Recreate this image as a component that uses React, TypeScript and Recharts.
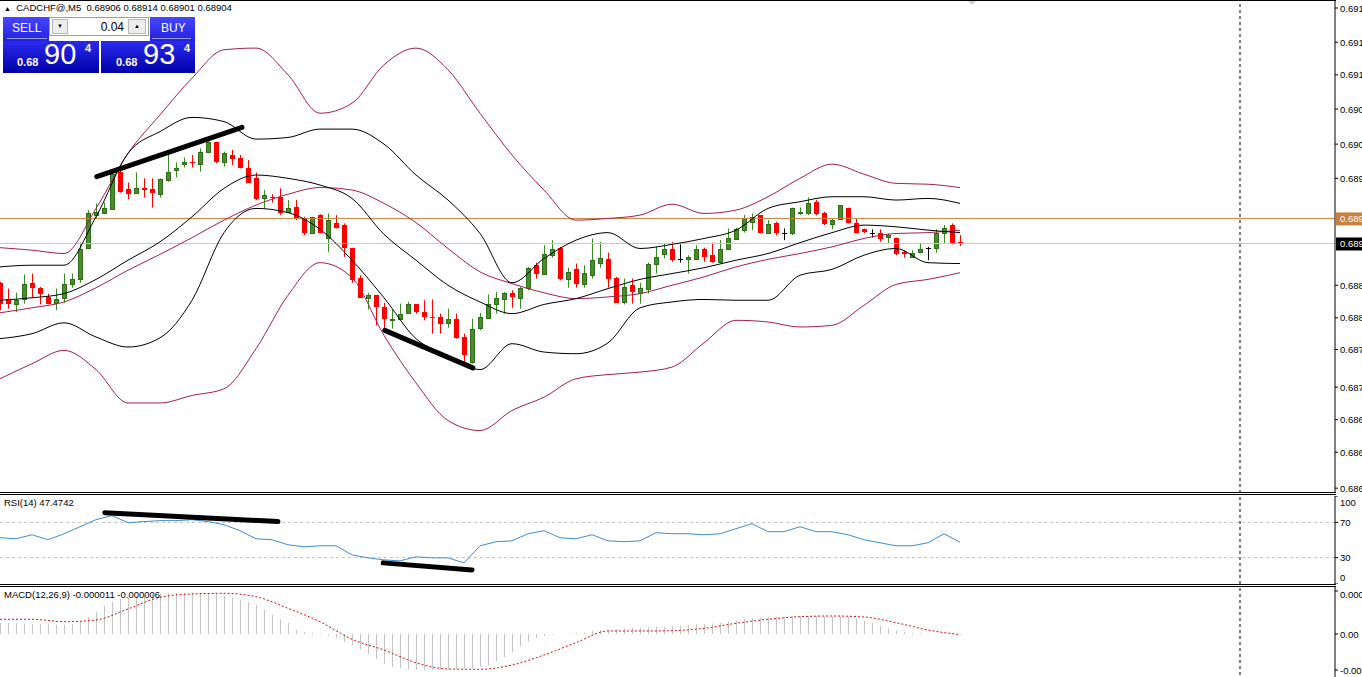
import React from 'react'
import { ComposedChart, Bar, Line, XAxis, YAxis, ReferenceLine } from 'recharts'

const FONT = '"Liberation Sans", Arial, sans-serif'

// M5 candles, oldest first
const OPEN = [
  0.68857, 0.68838, 0.68831, 0.68837, 0.68857, 0.68851, 0.68840, 0.68833, 0.68839, 0.68856,
  0.68861, 0.68899, 0.68938, 0.68941, 0.68945, 0.68990, 0.68969, 0.68965, 0.68971, 0.68969,
  0.68963, 0.68980, 0.68992, 0.68999, 0.69002, 0.68999, 0.69013, 0.69025, 0.69001, 0.69010,
  0.69006, 0.68994, 0.68982, 0.68958, 0.68960, 0.68960, 0.68942, 0.68948, 0.68935, 0.68917,
  0.68938, 0.68910, 0.68929, 0.68926, 0.68899, 0.68863, 0.68839, 0.68842, 0.68828, 0.68813,
  0.68814, 0.68821, 0.68831, 0.68822, 0.68816, 0.68816, 0.68809, 0.68814, 0.68792, 0.68762,
  0.68803, 0.68815, 0.68832, 0.68838, 0.68845, 0.68839, 0.68851, 0.68878, 0.68868, 0.68890,
  0.68899, 0.68862, 0.68874, 0.68856, 0.68866, 0.68881, 0.68886, 0.68863, 0.68834, 0.68854,
  0.68845, 0.68850, 0.68880, 0.68891, 0.68897, 0.68886, 0.68886, 0.68886, 0.68898, 0.68890,
  0.68882, 0.68898, 0.68909, 0.68920, 0.68930, 0.68938, 0.68916, 0.68929, 0.68917, 0.68916,
  0.68940, 0.68940, 0.68954, 0.68941, 0.68927, 0.68933, 0.68947, 0.68928, 0.68921, 0.68916,
  0.68916, 0.68912, 0.68910, 0.68894, 0.68888, 0.68894, 0.68899, 0.68899, 0.68917, 0.68926,
  0.68906,
]
const HIGH = [
  0.68858, 0.68850, 0.68845, 0.68867, 0.68868, 0.68852, 0.68844, 0.68850, 0.68868, 0.68868,
  0.68905, 0.68944, 0.68952, 0.68953, 0.68992, 0.68992, 0.68977, 0.68989, 0.68982, 0.68982,
  0.68982, 0.69010, 0.69001, 0.69007, 0.69010, 0.69018, 0.69030, 0.69026, 0.69014, 0.69016,
  0.69010, 0.69004, 0.68989, 0.68968, 0.68963, 0.68970, 0.68956, 0.68956, 0.68936, 0.68936,
  0.68939, 0.68940, 0.68938, 0.68928, 0.68899, 0.68866, 0.68845, 0.68842, 0.68833, 0.68825,
  0.68832, 0.68834, 0.68831, 0.68836, 0.68837, 0.68820, 0.68826, 0.68820, 0.68796, 0.68814,
  0.68821, 0.68843, 0.68846, 0.68846, 0.68848, 0.68852, 0.68876, 0.68881, 0.68902, 0.68908,
  0.68900, 0.68875, 0.68880, 0.68878, 0.68910, 0.68906, 0.68893, 0.68864, 0.68862, 0.68862,
  0.68857, 0.68881, 0.68900, 0.68904, 0.68906, 0.68903, 0.68890, 0.68902, 0.68899, 0.68905,
  0.68908, 0.68922, 0.68923, 0.68938, 0.68940, 0.68938, 0.68932, 0.68930, 0.68922, 0.68947,
  0.68947, 0.68959, 0.68956, 0.68942, 0.68934, 0.68950, 0.68947, 0.68934, 0.68922, 0.68921,
  0.68921, 0.68916, 0.68911, 0.68896, 0.68896, 0.68905, 0.68900, 0.68921, 0.68926, 0.68928,
  0.68914,
]
const LOW = [
  0.68824, 0.68826, 0.68822, 0.68832, 0.68839, 0.68831, 0.68831, 0.68824, 0.68833, 0.68851,
  0.68857, 0.68898, 0.68934, 0.68940, 0.68944, 0.68965, 0.68957, 0.68964, 0.68959, 0.68947,
  0.68959, 0.68978, 0.68983, 0.68995, 0.68995, 0.68990, 0.69012, 0.69000, 0.68996, 0.68998,
  0.68994, 0.68977, 0.68956, 0.68946, 0.68953, 0.68938, 0.68941, 0.68932, 0.68914, 0.68916,
  0.68916, 0.68894, 0.68922, 0.68888, 0.68857, 0.68839, 0.68825, 0.68806, 0.68801, 0.68802,
  0.68813, 0.68820, 0.68820, 0.68812, 0.68796, 0.68796, 0.68803, 0.68790, 0.68762, 0.68760,
  0.68800, 0.68814, 0.68820, 0.68820, 0.68827, 0.68826, 0.68848, 0.68862, 0.68867, 0.68887,
  0.68860, 0.68851, 0.68851, 0.68851, 0.68862, 0.68875, 0.68851, 0.68833, 0.68831, 0.68832,
  0.68832, 0.68844, 0.68868, 0.68886, 0.68882, 0.68881, 0.68868, 0.68884, 0.68882, 0.68881,
  0.68880, 0.68896, 0.68908, 0.68917, 0.68920, 0.68916, 0.68916, 0.68914, 0.68908, 0.68914,
  0.68938, 0.68938, 0.68938, 0.68926, 0.68921, 0.68932, 0.68928, 0.68916, 0.68916, 0.68911,
  0.68906, 0.68904, 0.68890, 0.68887, 0.68887, 0.68892, 0.68884, 0.68893, 0.68904, 0.68903,
  0.68901,
]
const CLOSE = [
  0.68832, 0.68831, 0.68836, 0.68855, 0.68851, 0.68844, 0.68832, 0.68838, 0.68856, 0.68862,
  0.68898, 0.68940, 0.68942, 0.68946, 0.68987, 0.68966, 0.68963, 0.68970, 0.68968, 0.68964,
  0.68981, 0.68990, 0.68995, 0.69001, 0.69000, 0.69013, 0.69026, 0.69001, 0.69012, 0.69005,
  0.68994, 0.68977, 0.68957, 0.68962, 0.68958, 0.68941, 0.68947, 0.68933, 0.68917, 0.68936,
  0.68916, 0.68932, 0.68922, 0.68899, 0.68860, 0.68839, 0.68842, 0.68828, 0.68813, 0.68814,
  0.68820, 0.68831, 0.68822, 0.68816, 0.68815, 0.68808, 0.68814, 0.68791, 0.68770, 0.68802,
  0.68816, 0.68832, 0.68839, 0.68845, 0.68840, 0.68851, 0.68875, 0.68868, 0.68892, 0.68897,
  0.68861, 0.68870, 0.68856, 0.68869, 0.68884, 0.68887, 0.68862, 0.68833, 0.68852, 0.68846,
  0.68851, 0.68880, 0.68888, 0.68898, 0.68884, 0.68886, 0.68888, 0.68898, 0.68888, 0.68882,
  0.68898, 0.68910, 0.68921, 0.68935, 0.68936, 0.68916, 0.68927, 0.68917, 0.68917, 0.68946,
  0.68942, 0.68953, 0.68939, 0.68927, 0.68932, 0.68950, 0.68929, 0.68917, 0.68918, 0.68916,
  0.68909, 0.68914, 0.68891, 0.68892, 0.68893, 0.68897, 0.68899, 0.68917, 0.68923, 0.68904,
  0.68904,
]

// indicator lines, read every 4th bar
const BAND_STEP = 4
const BB_UPPER = [
  0.68876, 0.68878, 0.68878, 0.68936, 0.69012, 0.69038, 0.69055, 0.69050, 0.69029, 0.69031,
  0.69041, 0.69041, 0.69023, 0.68986, 0.68956, 0.68916, 0.68857, 0.68886, 0.68908, 0.68917,
  0.68898, 0.68903, 0.68910, 0.68920, 0.68946, 0.68954, 0.68960, 0.68960, 0.68956, 0.68958,
  0.68952,
]
const BB_MID = [
  0.68836, 0.68839, 0.68844, 0.68861, 0.68884, 0.68906, 0.68936, 0.68970, 0.68986, 0.68982,
  0.68974, 0.68958, 0.68915, 0.68884, 0.68854, 0.68834, 0.68820, 0.68831, 0.68838, 0.68850,
  0.68861, 0.68868, 0.68875, 0.68884, 0.68892, 0.68905, 0.68917, 0.68926, 0.68924, 0.68920,
  0.68917,
]
const BB_LOWER = [
  0.68790, 0.68796, 0.68809, 0.68792, 0.68780, 0.68791, 0.68836, 0.68917, 0.68946, 0.68941,
  0.68921, 0.68884, 0.68839, 0.68790, 0.68770, 0.68753, 0.68784, 0.68774, 0.68772, 0.68785,
  0.68827, 0.68834, 0.68837, 0.68836, 0.68836, 0.68866, 0.68873, 0.68890, 0.68898, 0.68881,
  0.68880,
]
const WIDE_UPPER = [
  0.68899, 0.68896, 0.68892, 0.68946, 0.69012, 0.69058, 0.69102, 0.69136, 0.69138, 0.69106,
  0.69060, 0.69072, 0.69118, 0.69138, 0.69112, 0.69060, 0.69010, 0.68968, 0.68932, 0.68934,
  0.68938, 0.68951, 0.68940, 0.68944, 0.68960, 0.68982, 0.68999, 0.68987, 0.68976, 0.68975,
  0.68971,
]
const WIDE_MID = [
  0.68821, 0.68827, 0.68834, 0.68851, 0.68872, 0.68891, 0.68911, 0.68932, 0.68950, 0.68963,
  0.68971, 0.68968, 0.68952, 0.68929, 0.68898, 0.68870, 0.68856, 0.68845, 0.68838, 0.68840,
  0.68844, 0.68854, 0.68864, 0.68876, 0.68885, 0.68892, 0.68900, 0.68910, 0.68916, 0.68917,
  0.68920,
]
const WIDE_LOWER = [
  0.68742, 0.68760, 0.68776, 0.68753, 0.68713, 0.68713, 0.68722, 0.68730, 0.68778, 0.68842,
  0.68881, 0.68863, 0.68794, 0.68737, 0.68692, 0.68680, 0.68704, 0.68720, 0.68742, 0.68747,
  0.68750, 0.68756, 0.68785, 0.68812, 0.68810, 0.68804, 0.68806, 0.68830, 0.68855, 0.68861,
  0.68869,
]

// RSI(14), read every 2nd bar
const RSI_STEP = 2
const RSI = [
  52.6, 51.4, 56, 50.3, 57.1, 65.1, 73.1, 77.7, 69.7, 70.9, 72, 72, 73.1, 70.9, 67.4, 60.6,
  51.4, 50.3, 44.6, 42.3, 43.4, 43.4, 33.1, 29.7, 27.4, 26.3, 30.9, 29.7, 29.7, 24, 43.4,
  48, 49.1, 57.1, 60.6, 52.6, 51.4, 56, 49.1, 48, 49.1, 58.3, 57.1, 57.1, 56, 57.1, 62.9,
  68.6, 59.4, 59.4, 65.1, 59.4, 59.4, 56, 50.3, 46.9, 43.4, 43.4, 46.9, 57.1, 47.47,
]

// MACD(12,26,9) main (histogram), every bar
const MACD_MAIN = [
  0.00011, 0.00011, 0.00011, 0.000105, 0.0001, 0.0001, 0.000095, 0.00009, 0.00009, 0.0001,
  0.00012, 0.00017, 0.00022, 0.00028, 0.00032, 0.00035, 0.000365, 0.00038, 0.00039, 0.0004,
  0.000405, 0.00041, 0.00041, 0.000413, 0.000413, 0.00041, 0.000407, 0.0004, 0.000385, 0.000365,
  0.000345, 0.00032, 0.00029, 0.00024, 0.00019, 0.000145, 0.00011, 0.00004, 0.00002, 0.00001,
  0.000005, -0.000015, -0.00004, -0.00008, -0.00011, -0.00015, -0.0002, -0.00025, -0.0003, -0.00033,
  -0.000345, -0.000355, -0.00036, -0.00036, -0.00036, -0.00036, -0.000355, -0.00035, -0.000345, -0.000345,
  -0.00033, -0.00031, -0.00027, -0.00023, -0.00018, -0.00012, -0.000075, -0.00004, -0.00002, -0.00001,
  0, 0.000005, 0.000007, 0.000015, 0.00003, 0.00004, 0.000045, 0.00005, 0.000057, 0.00006,
  0.000063, 0.00007, 0.000073, 0.000077, 0.00008, 0.000087, 0.00009, 0.000095, 0.0001, 0.000105,
  0.000113, 0.000125, 0.000135, 0.00015, 0.00016, 0.000165, 0.00017, 0.000173, 0.000175, 0.000178,
  0.00018, 0.00018, 0.00018, 0.000178, 0.000175, 0.000173, 0.00017, 0.000155, 0.000135, 0.00011,
  0.00008, 0.000055, 0.000035, 0.00002, 0.00001, 0.000007, 0.000003, 0, -0.000003, -0.000007,
  -0.000011,
]
// signal line, read every 4th bar
const SIGNAL_STEP = 4
const MACD_SIGNAL = [
  0.000147, 0.000147, 0.000123, 0.00014, 0.00025, 0.000367, 0.0004, 0.000407, 0.000373, 0.000257,
  0.000123, -0.000053, -0.00016, -0.000287, -0.00035, -0.000353, -0.00031, -0.00021, -0.000087, 0.00003,
  0.00003, 0.000033, 0.000057, 0.000107, 0.000147, 0.000173, 0.00018, 0.00017, 0.000113, 0.00004,
  -0.000006,
]

// the two labels under the ask/bid tags are hidden in the terminal
const PRICE_TICKS = [
  0.69186, 0.69145, 0.69106, 0.69065, 0.69023, 0.68982,
  0.68854, 0.68815, 0.68777, 0.68732, 0.68693, 0.68654, 0.68611,
]
const RSI_TICKS = [0, 30, 70, 100]
const MACD_TICKS = [0.00043, 0, -0.00036]

const BID = 0.68904
const ASK = 0.68934
const SEPARATOR_BAR = 155

// hand-drawn divergence lines: [bar, value] pairs
const PRICE_TREND = [
  [[12.1, 0.68984], [30.25, 0.69043]],
  [[48.1, 0.68800], [59.1, 0.68755]],
]
const RSI_TREND = [
  [[13.1, 81.1], [34.75, 70.9]],
  [[47.9, 24], [59, 16]],
]

const W = 1400
const AXIS_W = 65
const X_DOMAIN: [number, number] = [0, 166.875]

const GREEN = '#4B8B2E'
const GREEN_EDGE = '#2E6E18'
const RED = '#FF0000'
const CRIMSON = '#A3204F'

const candles = OPEN.map((o, i) => ({
  i,
  range: [LOW[i], HIGH[i]],
  open: o,
  close: CLOSE[i],
  bu: i % BAND_STEP === 0 ? BB_UPPER[i / BAND_STEP] : null,
  bm: i % BAND_STEP === 0 ? BB_MID[i / BAND_STEP] : null,
  bl: i % BAND_STEP === 0 ? BB_LOWER[i / BAND_STEP] : null,
  wu: i % BAND_STEP === 0 ? WIDE_UPPER[i / BAND_STEP] : null,
  wm: i % BAND_STEP === 0 ? WIDE_MID[i / BAND_STEP] : null,
  wl: i % BAND_STEP === 0 ? WIDE_LOWER[i / BAND_STEP] : null,
}))

const rsiRows = OPEN.map((_, i) => ({
  i,
  rsi: i % RSI_STEP === 0 ? RSI[i / RSI_STEP] : null,
}))

const macdRows = MACD_MAIN.map((m, i) => ({
  i,
  main: m,
  signal: i % SIGNAL_STEP === 0 ? MACD_SIGNAL[i / SIGNAL_STEP] : null,
}))

function Candle(props: any) {
  const { x, y, width, height, payload } = props
  const { open, close, range } = payload
  const [low, high] = range
  const top = Math.min(y, y + height)
  const h = Math.abs(height)
  const cx = Math.round(x + width / 2)
  const toY = (p: number) => top + ((high - p) / (high - low)) * h
  const bull = close > open
  const bear = close < open
  const color = bull ? GREEN_EDGE : bear ? RED : '#000'
  const bTop = Math.round(toY(Math.max(open, close)))
  const bBot = Math.round(toY(Math.min(open, close)))
  return (
    <g>
      <line x1={cx + 0.5} x2={cx + 0.5} y1={top} y2={top + h} stroke={bull ? '#3A8A22' : color} strokeWidth={1} />
      {bull && (
        <rect x={cx - 1.5} y={bTop + 0.5} width={4} height={Math.max(bBot - bTop, 1)} fill={GREEN} stroke={GREEN_EDGE} strokeWidth={1} />
      )}
      {bear && <rect x={cx - 2} y={bTop} width={5} height={Math.max(bBot - bTop, 1)} fill={RED} />}
      {!bull && !bear && <line x1={cx - 2} x2={cx + 3} y1={bTop + 0.5} y2={bTop + 0.5} stroke="#000" />}
    </g>
  )
}

function HistBar(props: any) {
  const { x, y, width, height } = props
  const cx = Math.round(x + width / 2) + 0.5
  return <line x1={cx} x2={cx} y1={y} y2={y + height} stroke="#C4C4C4" strokeWidth={1} />
}

function makeTick(fmt: (v: number) => string, lo: number, hi: number) {
  return (props: any) => {
    const { x, y, payload } = props
    const ty = Math.min(Math.max(y, lo), hi)
    return (
      <text x={x} y={ty} dy={3.5} textAnchor="start" fontSize={9.5} fontFamily={FONT} fill="#000">
        {fmt(payload.value)}
      </text>
    )
  }
}

function PriceTag(props: any) {
  const { viewBox, fill, text } = props
  const x = viewBox.x + viewBox.width + 1
  return (
    <g>
      <rect x={x} y={viewBox.y - 6} width={60} height={13} fill={fill} />
      <text x={x + 4} y={viewBox.y + 4} fontSize={9.5} fontFamily={FONT} fill="#fff">{text}</text>
    </g>
  )
}

const axisLine = { stroke: '#000' }
const tickLine = { stroke: '#000' }

export default function App() {
  const blueTop = 'linear-gradient(#4646ff, #2222dd)'
  const blueBottom = 'linear-gradient(#2a2aee, #0000a8)'
  const white = '#fff'
  return (
    <div style={{ position: 'fixed', left: 0, top: 0, width: 1362, height: 677, overflow: 'hidden', background: '#fff', fontFamily: FONT }}>
      {/* main price window */}
      <div style={{ position: 'absolute', left: 0, top: 0 }}>
        <ComposedChart width={W} height={493} data={candles} margin={{ top: 0, right: 0, bottom: 0, left: 0 }}>
          <XAxis dataKey="i" type="number" domain={X_DOMAIN} hide allowDataOverflow />
          <YAxis
            orientation="right"
            width={AXIS_W}
            domain={[0.686052, 0.691956]}
            allowDataOverflow
            ticks={PRICE_TICKS}
            interval={0}
            tickSize={3}
            tickMargin={2}
            axisLine={axisLine}
            tickLine={tickLine}
            tick={makeTick(v => v.toFixed(5), -100, 1000)}
          />
          <ReferenceLine y={BID} stroke="#C8C8C8" />
          <ReferenceLine y={ASK} stroke="#C8813E" />
          <ReferenceLine x={SEPARATOR_BAR} stroke="#000" strokeDasharray="3 3" />
          <Bar dataKey="range" barSize={5} shape={<Candle />} isAnimationActive={false} />
          <Line dataKey="wu" stroke={CRIMSON} dot={false} connectNulls type="monotone" isAnimationActive={false} />
          <Line dataKey="wm" stroke={CRIMSON} dot={false} connectNulls type="monotone" isAnimationActive={false} />
          <Line dataKey="wl" stroke={CRIMSON} dot={false} connectNulls type="monotone" isAnimationActive={false} />
          <Line dataKey="bu" stroke="#000" dot={false} connectNulls type="monotone" isAnimationActive={false} />
          <Line dataKey="bm" stroke="#000" dot={false} connectNulls type="monotone" isAnimationActive={false} />
          <Line dataKey="bl" stroke="#000" dot={false} connectNulls type="monotone" isAnimationActive={false} />
          {PRICE_TREND.map((seg, k) => (
            <ReferenceLine
              key={k}
              segment={[{ x: seg[0][0], y: seg[0][1] }, { x: seg[1][0], y: seg[1][1] }]}
              stroke="#000"
              strokeWidth={5}
              strokeLinecap="round"
              ifOverflow="visible"
            />
          ))}
          <ReferenceLine y={ASK} stroke="none" label={<PriceTag fill="#C8813E" text={ASK.toFixed(5)} />} />
          <ReferenceLine y={BID} stroke="none" label={<PriceTag fill="#000" text={BID.toFixed(5)} />} />
        </ComposedChart>
      </div>

      {/* RSI window */}
      <div style={{ position: 'absolute', left: 0, top: 496 }}>
        <ComposedChart width={W} height={88} data={rsiRows} margin={{ top: 0, right: 0, bottom: 0, left: 0 }}>
          <XAxis dataKey="i" type="number" domain={X_DOMAIN} hide allowDataOverflow />
          <YAxis
            orientation="right"
            width={AXIS_W}
            domain={[0, 100]}
            ticks={RSI_TICKS}
            interval={0}
            tickSize={3}
            tickMargin={2}
            axisLine={axisLine}
            tickLine={tickLine}
            tick={makeTick(v => String(v), 6, 81)}
          />
          <ReferenceLine y={70} stroke="#C0C0C0" strokeDasharray="3 3" />
          <ReferenceLine y={30} stroke="#C0C0C0" strokeDasharray="3 3" />
          <ReferenceLine x={SEPARATOR_BAR} stroke="#000" strokeDasharray="3 3" />
          <Line dataKey="rsi" stroke="#3C8DD2" dot={false} connectNulls isAnimationActive={false} />
          {RSI_TREND.map((seg, k) => (
            <ReferenceLine
              key={k}
              segment={[{ x: seg[0][0], y: seg[0][1] }, { x: seg[1][0], y: seg[1][1] }]}
              stroke="#000"
              strokeWidth={5}
              strokeLinecap="round"
              ifOverflow="visible"
            />
          ))}
        </ComposedChart>
      </div>

      {/* MACD window */}
      <div style={{ position: 'absolute', left: 0, top: 587 }}>
        <ComposedChart width={W} height={94} data={macdRows} margin={{ top: 0, right: 0, bottom: 0, left: 0 }}>
          <XAxis dataKey="i" type="number" domain={X_DOMAIN} hide allowDataOverflow />
          <YAxis
            orientation="right"
            width={AXIS_W}
            domain={[-0.00047, 0.00047]}
            allowDataOverflow
            ticks={MACD_TICKS}
            interval={0}
            tickSize={3}
            tickMargin={2}
            axisLine={axisLine}
            tickLine={tickLine}
            tick={makeTick(v => (v === 0 ? '0.00' : v.toFixed(6)), 7, 200)}
          />
          <ReferenceLine x={SEPARATOR_BAR} stroke="#000" strokeDasharray="3 3" />
          <Bar dataKey="main" barSize={1} shape={<HistBar />} isAnimationActive={false} />
          <Line dataKey="signal" stroke="#D01010" strokeDasharray="2 2" dot={false} connectNulls type="monotone" isAnimationActive={false} />
        </ComposedChart>
      </div>

      {/* window frames */}
      <div style={{ position: 'absolute', left: 0, top: 0, width: 1336, height: 1, background: '#000' }} />
      <div style={{ position: 'absolute', left: 0, top: 492, width: 1336, height: 1, background: '#000' }} />
      <div style={{ position: 'absolute', left: 0, top: 494, width: 1336, height: 1, background: '#000' }} />
      <div style={{ position: 'absolute', left: 0, top: 584, width: 1336, height: 1, background: '#000' }} />
      <div style={{ position: 'absolute', left: 0, top: 586, width: 1336, height: 1, background: '#000' }} />
      <div style={{ position: 'absolute', left: 968, top: 1, width: 0, height: 0, borderLeft: '4px solid transparent', borderRight: '4px solid transparent', borderTop: '4px solid #D0D0D0' }} />

      {/* captions */}
      <div style={{ position: 'absolute', left: 4, top: 2, fontSize: 9.5, whiteSpace: 'pre', color: '#000' }}>
        <span style={{ fontSize: 7 }}>▲</span>{'  CADCHF@,M5  0.68906 0.68914 0.68901 0.68904'}
      </div>
      <div style={{ position: 'absolute', left: 4, top: 497, fontSize: 9.5, color: '#000' }}>RSI(14) 47.4742</div>
      <div style={{ position: 'absolute', left: 4, top: 589, fontSize: 9.5, color: '#000' }}>MACD(12,26,9) -0.000011 -0.000006</div>

      {/* one-click trading panel */}
      <div style={{ position: 'absolute', left: 3, top: 17, width: 46, height: 24, background: blueTop, color: white, fontSize: 12 }}>
        <div style={{ position: 'absolute', left: 9, top: 4 }}>SELL</div>
        <div style={{ position: 'absolute', left: 4, right: 2, top: 21, height: 1, background: '#9a9aff' }} />
      </div>
      <div style={{ position: 'absolute', left: 150, top: 17, width: 45, height: 24, background: blueTop, color: white, fontSize: 12 }}>
        <div style={{ position: 'absolute', left: 11, top: 4 }}>BUY</div>
        <div style={{ position: 'absolute', left: 2, right: 4, top: 21, height: 1, background: '#9a9aff' }} />
      </div>
      <div style={{ position: 'absolute', left: 49, top: 17, width: 100, height: 19, background: '#fff', border: '1px solid #A0A0A0', boxSizing: 'border-box' }}>
        <div style={{ position: 'absolute', left: 2, top: 1, width: 16, height: 15, background: '#EDEDED', border: '1px solid #B8B8B8', boxSizing: 'border-box', fontSize: 6, textAlign: 'center', lineHeight: '13px' }}>▼</div>
        <div style={{ position: 'absolute', right: 24, top: 2, fontSize: 12 }}>0.04</div>
        <div style={{ position: 'absolute', right: 2, top: 1, width: 18, height: 15, background: '#EDEDED', border: '1px solid #B8B8B8', boxSizing: 'border-box', fontSize: 6, textAlign: 'center', lineHeight: '13px' }}>▲</div>
      </div>
      {[{ left: 3, width: 96, big: '90', pre: 14 }, { left: 101, width: 94, big: '93', pre: 15 }].map((b, k) => (
        <div key={k} style={{ position: 'absolute', left: b.left, top: 41, width: b.width, height: 32, background: blueBottom, color: white }}>
          <div style={{ position: 'absolute', left: b.pre, top: 15, fontSize: 11, fontWeight: 'bold' }}>0.68</div>
          <div style={{ position: 'absolute', left: b.pre + 27, top: -3, fontSize: 29 }}>{b.big}</div>
          <div style={{ position: 'absolute', left: b.pre + 68, top: 1, fontSize: 11, fontWeight: 'bold' }}>4</div>
        </div>
      ))}
    </div>
  )
}
